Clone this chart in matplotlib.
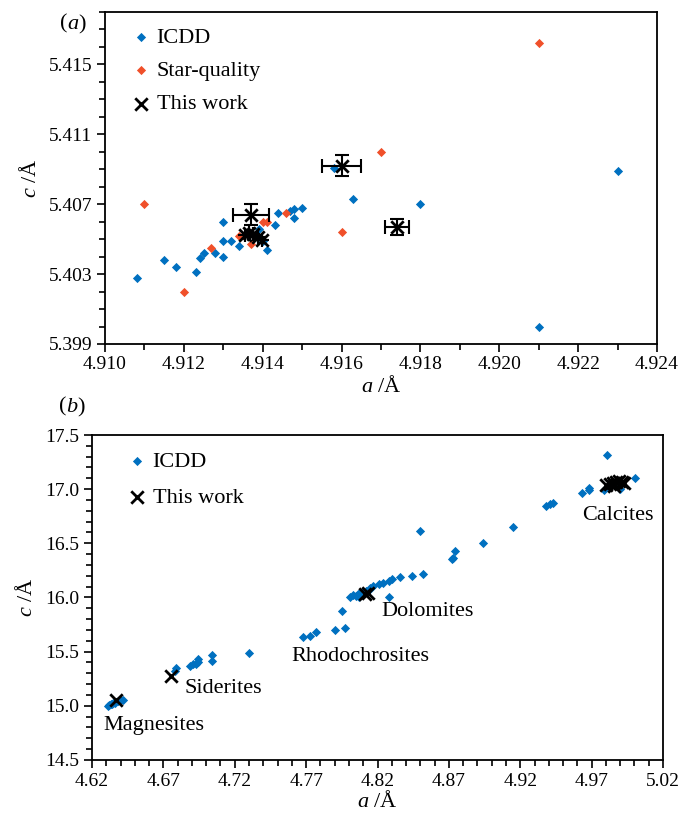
import matplotlib
matplotlib.use("Agg")
import matplotlib.pyplot as plt
from matplotlib.ticker import MultipleLocator, FormatStrFormatter

plt.rcParams['font.family'] = ['Liberation Serif', 'DejaVu Serif']
plt.rcParams['mathtext.fontset'] = 'custom'
plt.rcParams['mathtext.rm'] = 'Liberation Serif'
plt.rcParams['mathtext.it'] = 'Liberation Serif:italic'

BLUE = '#0070C0'
RED = '#F0502A'

# ---------------- panel (a) data ----------------
icdd_a_a = [4.9108, 4.9115, 4.9118, 4.9123, 4.9124, 4.9125, 4.9128, 4.9130, 4.9130,
            4.9130, 4.9132, 4.9134, 4.9139, 4.9140, 4.9141, 4.9143, 4.9144, 4.9147,
            4.9148, 4.9148, 4.9150, 4.9163, 4.9158, 4.9180, 4.9210, 4.9230]
icdd_a_c = [5.4028, 5.4038, 5.4034, 5.4031, 5.4039, 5.4042, 5.4042, 5.4040, 5.4049,
            5.4060, 5.4049, 5.4046, 5.4056, 5.4049, 5.4044, 5.4058, 5.4065, 5.4066,
            5.4067, 5.4062, 5.4068, 5.4073, 5.4091, 5.4070, 5.4000, 5.4089]

star_a = [4.9110, 4.9120, 4.9127, 4.9134, 4.9137, 4.9140, 4.9141, 4.9146, 4.9160, 4.9170, 4.9210]
star_c = [5.4070, 5.4020, 5.4045, 5.4052, 5.4047, 5.4060, 5.4060, 5.4065, 5.4054, 5.4100, 5.4162]

work_a_a = [4.9160, 4.9137, 4.9174, 4.91355, 4.91366, 4.91376, 4.91389, 4.91397]
work_a_c = [5.4092, 5.4064, 5.4057, 5.40523, 5.40536, 5.40530, 5.40513, 5.40494]
work_a_aerr = [0.0005, 0.00045, 0.0003, 0, 0, 0, 0, 0]
work_a_cerr = [0.0006, 0.0006, 0.00045, 0, 0, 0, 0, 0]

xticks_a = [4.910, 4.912, 4.914, 4.916, 4.918, 4.920, 4.922, 4.924]
yticks_a = [5.399, 5.403, 5.407, 5.411, 5.415]

# ---------------- panel (b) data ----------------
icdd_b_a = [4.631, 4.632, 4.633, 4.634, 4.635, 4.636, 4.638, 4.640, 4.642,
            4.678, 4.679, 4.689, 4.691, 4.693, 4.694, 4.694, 4.704, 4.704, 4.730,
            4.768, 4.773, 4.777, 4.790, 4.797, 4.795,
            4.801, 4.803, 4.805, 4.806, 4.807, 4.808, 4.810, 4.812, 4.814, 4.815,
            4.817, 4.821, 4.824, 4.828, 4.830, 4.828, 4.836, 4.844, 4.852, 4.850,
            4.872, 4.873, 4.874, 4.894, 4.915, 4.938, 4.941, 4.943,
            4.963, 4.968, 4.968, 4.979, 4.990, 4.9806, 5.0005, 4.985, 4.988, 4.983]
icdd_b_c = [15.00, 15.01, 15.015, 15.02, 15.025, 15.03, 15.04, 15.05, 15.055,
            15.32, 15.35, 15.37, 15.385, 15.39, 15.40, 15.435, 15.41, 15.47, 15.49,
            15.637, 15.643, 15.68, 15.70, 15.72, 15.875,
            16.00, 16.02, 16.01, 16.03, 16.00, 16.04, 16.05, 16.06, 16.07, 16.09,
            16.107, 16.123, 16.132, 16.154, 16.175, 16.008, 16.191, 16.203, 16.221, 16.611,
            16.354, 16.364, 16.432, 16.506, 16.649, 16.84, 16.866, 16.871,
            16.964, 16.989, 17.011, 16.996, 17.005, 17.314, 17.107, 17.05, 17.06, 17.03]

work_b_a = [4.637, 4.675, 4.811, 4.813, 4.980, 4.983, 4.985, 4.987, 4.989, 4.991, 4.993, 4.986]
work_b_c = [15.05, 15.278, 16.03, 16.04, 17.04, 17.05, 17.06, 17.07, 17.08, 17.07, 17.06, 17.03]

xticks_b = [4.62, 4.67, 4.72, 4.77, 4.82, 4.87, 4.92, 4.97, 5.02]
yticks_b = [14.5, 15.0, 15.5, 16.0, 16.5, 17.0, 17.5]

mineral_names = ['Calcites', 'Dolomites', 'Rhodochrosites', 'Siderites', 'Magnesites']
mineral_pos_a = [4.9635, 4.8225, 4.7595, 4.6850, 4.6280]
mineral_pos_c = [16.757, 15.875, 15.457, 15.160, 14.817]

fig = plt.figure(figsize=(6.8, 8.14), dpi=100)

TICK_FS = 14
LAB_FS = 16

def style(ax):
    for s in ax.spines.values():
        s.set_linewidth(1.3)
    ax.tick_params(which='both', direction='out', top=False, right=False,
                   labelsize=TICK_FS, width=1.2)
    ax.tick_params(which='major', length=6, pad=3)
    ax.tick_params(which='minor', length=4)

# ---------------- (a) ----------------
ax1 = fig.add_axes([105/680, 1-344/814, 552/680, 332/814])
ax1.scatter(icdd_a_a, icdd_a_c, marker='D', s=22, color=BLUE, lw=0, label='ICDD', zorder=2)
ax1.scatter(star_a, star_c, marker='D', s=22, color=RED, lw=0, label='Star-quality', zorder=3)
ax1.errorbar(work_a_a, work_a_c, xerr=work_a_aerr, yerr=work_a_cerr, fmt='none',
             ecolor='black', elinewidth=1.5, capsize=5, capthick=1.5, zorder=4)
ax1.scatter(work_a_a, work_a_c, marker='x', s=80, color='black', lw=2,
            label='This work', zorder=5)
ax1.set_xlim(4.910, 4.924)
ax1.set_ylim(5.399, 5.418)
ax1.set_xticks(xticks_a)
ax1.set_yticks(yticks_a)
ax1.xaxis.set_minor_locator(MultipleLocator(0.001))
ax1.yaxis.set_minor_locator(MultipleLocator(0.001))
ax1.xaxis.set_major_formatter(FormatStrFormatter('%.3f'))
ax1.yaxis.set_major_formatter(FormatStrFormatter('%.3f'))
style(ax1)
ax1.set_xlabel(r'$\it{a}$ /Å', fontsize=LAB_FS, labelpad=2)
ax1.set_ylabel(r'$\it{c}$ /Å', fontsize=LAB_FS, labelpad=6)
ax1.legend(loc='upper left', bbox_to_anchor=(0.025, 0.995), frameon=False,
           fontsize=LAB_FS, handlelength=0.8, handletextpad=0.3,
           labelspacing=0.58, borderaxespad=0.2, scatterpoints=1)
fig.text(67/680, 1-24/814, '(', fontsize=LAB_FS, ha='right', va='center')
fig.text(67/680, 1-24/814, r'$\it{a}$)', fontsize=LAB_FS, ha='left', va='center')

# ---------------- (b) ----------------
ax2 = fig.add_axes([92/680, 1-760/814, 571/680, 325/814])
ax2.scatter(icdd_b_a, icdd_b_c, marker='D', s=22, color=BLUE, lw=0, label='ICDD', zorder=2)
ax2.scatter(work_b_a, work_b_c, marker='x', s=80, color='black', lw=2,
            label='This work', zorder=5)
ax2.set_xlim(4.62, 5.02)
ax2.set_ylim(14.5, 17.5)
ax2.set_xticks(xticks_b)
ax2.set_yticks(yticks_b)
ax2.xaxis.set_minor_locator(MultipleLocator(0.01))
ax2.yaxis.set_minor_locator(MultipleLocator(0.1))
ax2.xaxis.set_major_formatter(FormatStrFormatter('%.2f'))
ax2.yaxis.set_major_formatter(FormatStrFormatter('%.1f'))
style(ax2)
ax2.set_xlabel(r'$\it{a}$ /Å', fontsize=LAB_FS, labelpad=1)
ax2.set_ylabel(r'$\it{c}$ /Å', fontsize=LAB_FS, labelpad=6)
ax2.legend(loc='upper left', bbox_to_anchor=(0.04, 0.99), frameon=False,
           fontsize=LAB_FS, handlelength=0.8, handletextpad=0.3,
           labelspacing=0.7, borderaxespad=0.2, scatterpoints=1)
for name, xa, yc in zip(mineral_names, mineral_pos_a, mineral_pos_c):
    ax2.text(xa, yc, name, fontsize=LAB_FS, ha='left', va='center')
fig.text(66/680, 1-407/814, '(', fontsize=LAB_FS, ha='right', va='center')
fig.text(66/680, 1-407/814, r'$\it{b}$)', fontsize=LAB_FS, ha='left', va='center')

fig.savefig('out.png', dpi=100)
